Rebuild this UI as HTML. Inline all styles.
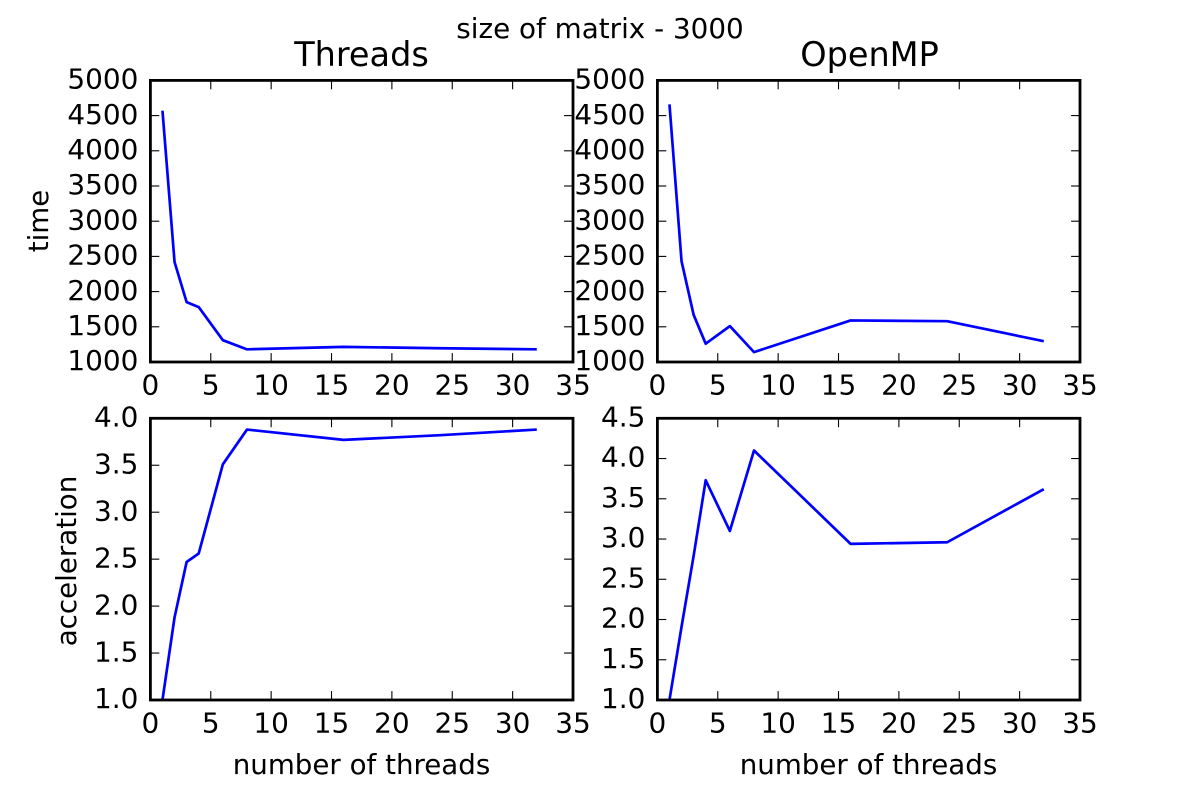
<!DOCTYPE html>
<html>
<head>
<meta charset="utf-8">
<title>size of matrix - 3000</title>
<style>
html,body{margin:0;padding:0;background:#fff;}
svg{display:block;}
text{font-family:"DejaVu Sans",sans-serif;fill:#000;}
</style>
</head>
<body>
<svg id="figure" width="1200" height="800" viewBox="0 0 1200 800" xmlns="http://www.w3.org/2000/svg">
  <rect x="0" y="0" width="1200" height="800" fill="#fff"/>
  <text x="600" y="38" font-size="27.8" text-anchor="middle">size of matrix - 3000</text>
  <text x="361.5" y="66" font-size="33.5" text-anchor="middle">Threads</text>
  <text x="869.5" y="66" font-size="33.5" text-anchor="middle">OpenMP</text>
  <text transform="translate(48,221) rotate(-90)" font-size="27.7" text-anchor="middle">time</text>
  <text transform="translate(76,561) rotate(-90)" font-size="27.7" text-anchor="middle">acceleration</text>
  <text x="361.5" y="774" font-size="27.7" text-anchor="middle">number of threads</text>
  <text x="868.5" y="774" font-size="27.7" text-anchor="middle">number of threads</text>
</svg>
<script>
var threadCounts = [1, 2, 3, 4, 6, 8, 16, 24, 32];
var threadsTime = [4570, 2420, 1850, 1780, 1310, 1180, 1215, 1195, 1180];
var openmpTime = [4660, 2430, 1670, 1260, 1510, 1140, 1590, 1580, 1295];
var threadsAcceleration = [1, 1.88, 2.47, 2.56, 3.51, 3.88, 3.77, 3.82, 3.88];
var openmpAcceleration = [1, 1.91, 2.79, 3.73, 3.10, 4.10, 2.94, 2.96, 3.62];
var xTickLabels = ['0', '5', '10', '15', '20', '25', '30', '35'];
var timeTickLabels = ['1000', '1500', '2000', '2500', '3000', '3500', '4000', '4500', '5000'];
var threadsAccelerationTickLabels = ['1.0', '1.5', '2.0', '2.5', '3.0', '3.5', '4.0'];
var openmpAccelerationTickLabels = ['1.0', '1.5', '2.0', '2.5', '3.0', '3.5', '4.0', '4.5'];

var SVG_NS = 'http://www.w3.org/2000/svg';
var svg = document.getElementById('figure');

function makeEl(tag, attrs, parent) {
  var el = document.createElementNS(SVG_NS, tag);
  for (var k in attrs) { el.setAttribute(k, attrs[k]); }
  parent.appendChild(el);
  return el;
}

function drawPanel(name, box, values, yLabels) {
  var g = makeEl('g', {}, svg);
  
  

  var xMin = Number(xTickLabels[0]);
  var xMax = Number(xTickLabels[xTickLabels.length - 1]);
  var yMin = Number(yLabels[0]);
  var yMax = Number(yLabels[yLabels.length - 1]);
  function xScale(v) { return box.left + (v - xMin) / (xMax - xMin) * (box.right - box.left); }
  function yScale(v) { return box.bottom - (v - yMin) / (yMax - yMin) * (box.bottom - box.top); }

  var clipId = name + '-clip';
  var clip = makeEl('clipPath', { id: clipId }, g);
  makeEl('rect', { x: box.left, y: box.top, width: box.right - box.left, height: box.bottom - box.top }, clip);

  var points = threadCounts.map(function (t, i) {
    return xScale(t).toFixed(2) + ',' + yScale(values[i]).toFixed(2);
  }).join(' ');
  var line = makeEl('polyline', { points: points, fill: 'none', stroke: '#0000ff', 'stroke-width': 2.7, 'stroke-linejoin': 'round', 'clip-path': 'url(#' + clipId + ')' }, g);
  
  

  var tickLen = 8.9;
  xTickLabels.forEach(function (label) {
    var x = xScale(Number(label));
    var tickBottom = makeEl('line', { x1: x, x2: x, y1: box.bottom, y2: box.bottom - tickLen, stroke: '#000', 'stroke-width': 1.1 }, g);
    
    
    var tickTop = makeEl('line', { x1: x, x2: x, y1: box.top, y2: box.top + tickLen, stroke: '#000', 'stroke-width': 1.1 }, g);
    
    
    var text = makeEl('text', { x: x, y: box.bottom + 32.6, 'font-size': 27.9, 'text-anchor': 'middle' }, g);
    text.textContent = label;
    
    
  });

  yLabels.forEach(function (label) {
    var y = yScale(Number(label));
    var tickLeft = makeEl('line', { x1: box.left, x2: box.left + tickLen, y1: y, y2: y, stroke: '#000', 'stroke-width': 1.1 }, g);
    
    
    var tickRight = makeEl('line', { x1: box.right, x2: box.right - tickLen, y1: y, y2: y, stroke: '#000', 'stroke-width': 1.1 }, g);
    
    
    var text = makeEl('text', { x: box.left - 12, y: y + 8.2, 'font-size': 27.9, 'text-anchor': 'end' }, g);
    text.textContent = label;
    
    
  });

  var frame = makeEl('rect', { x: box.left, y: box.top, width: box.right - box.left, height: box.bottom - box.top, fill: 'none', stroke: '#000', 'stroke-width': 2.8 }, g);
  
  
}

var topRow = { top: 80.4, bottom: 362 };
var bottomRow = { top: 418.3, bottom: 700 };
var leftCol = { left: 150.4, right: 573 };
var rightCol = { left: 657.4, right: 1080 };

drawPanel('threads-time', { left: leftCol.left, right: leftCol.right, top: topRow.top, bottom: topRow.bottom }, threadsTime, timeTickLabels);
drawPanel('openmp-time', { left: rightCol.left, right: rightCol.right, top: topRow.top, bottom: topRow.bottom }, openmpTime, timeTickLabels);
drawPanel('threads-acceleration', { left: leftCol.left, right: leftCol.right, top: bottomRow.top, bottom: bottomRow.bottom }, threadsAcceleration, threadsAccelerationTickLabels);
drawPanel('openmp-acceleration', { left: rightCol.left, right: rightCol.right, top: bottomRow.top, bottom: bottomRow.bottom }, openmpAcceleration, openmpAccelerationTickLabels);
</script>
</body>
</html>
